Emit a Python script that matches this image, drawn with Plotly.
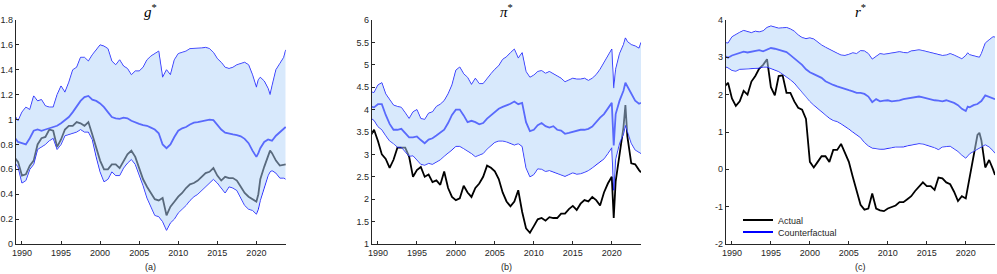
import plotly.graph_objects as go

years = [1989.0, 1989.5, 1990.0, 1990.5, 1991.0, 1991.5, 1992.0, 1992.5, 1993.0, 1993.5,
         1994.0, 1994.5, 1995.0, 1995.5, 1996.0, 1996.5, 1997.0, 1997.5, 1998.0, 1998.5,
         1999.0, 1999.5, 2000.0, 2000.5, 2001.0, 2001.5, 2002.0, 2002.5, 2003.0, 2003.5,
         2004.0, 2004.5, 2005.0, 2005.5, 2006.0, 2006.5, 2007.0, 2007.5, 2008.0, 2008.5,
         2009.0, 2009.5, 2010.0, 2010.5, 2011.0, 2011.5, 2012.0, 2012.5, 2013.0, 2013.5,
         2014.0, 2014.5, 2015.0, 2015.5, 2016.0, 2016.5, 2017.0, 2017.5, 2018.0, 2018.5,
         2019.0, 2019.5, 2020.0, 2020.25, 2020.5, 2021.0, 2021.5, 2021.75, 2022.0, 2022.5,
         2023.0, 2023.5, 2023.75]

# ---- g* ----
g_upper = [1.04, 0.99, 1.06, 1.10, 1.08, 1.19, 1.15, 1.16, 1.11, 1.10,
           1.10, 1.20, 1.27, 1.22, 1.30, 1.40, 1.42, 1.50, 1.50, 1.47,
           1.52, 1.56, 1.60, 1.59, 1.57, 1.47, 1.44, 1.48, 1.43, 1.41,
           1.36, 1.39, 1.39, 1.42, 1.48, 1.51, 1.53, 1.55, 1.34, 1.40,
           1.36, 1.48, 1.53, 1.54, 1.55, 1.57, 1.57, 1.57, 1.575, 1.58,
           1.57, 1.54, 1.49, 1.46, 1.42, 1.41, 1.42, 1.44, 1.45, 1.46,
           1.44, 1.36, 1.26, 1.32, 1.34, 1.31, 1.25, 1.20, 1.27, 1.40,
           1.45, 1.50, 1.56]
g_median = [0.86, 0.82, 0.81, 0.80, 0.85, 0.91, 0.92, 0.91, 0.92, 0.93,
            0.94, 0.95, 0.97, 0.995, 1.02, 1.06, 1.11, 1.15, 1.18, 1.19,
            1.16, 1.15, 1.13, 1.10, 1.06, 1.02, 1.01, 1.005, 1.015, 1.01,
            0.99, 0.975, 0.965, 0.955, 0.95, 0.935, 0.92, 0.89, 0.80, 0.77,
            0.80, 0.86, 0.91, 0.93, 0.94, 0.96, 0.975, 0.98, 0.985, 0.99,
            1.0, 0.995, 0.96, 0.92, 0.895, 0.885, 0.88, 0.875, 0.865, 0.845,
            0.81, 0.75, 0.70, 0.73, 0.77, 0.82, 0.84, 0.835, 0.83, 0.87,
            0.90, 0.925, 0.94]
g_lower = [0.66, 0.62, 0.49, 0.51, 0.60, 0.64, 0.76, 0.78, 0.80, 0.83,
           0.85, 0.76, 0.80, 0.87, 0.88, 0.89, 0.90, 0.92, 0.90, 0.90,
           0.84, 0.70, 0.58, 0.50, 0.52, 0.58, 0.55, 0.55, 0.61, 0.65,
           0.68, 0.64, 0.56, 0.47, 0.37, 0.30, 0.23, 0.22, 0.18, 0.11,
           0.17, 0.20, 0.25, 0.28, 0.31, 0.35, 0.38, 0.40, 0.43, 0.46,
           0.49, 0.52, 0.49, 0.45, 0.41, 0.46, 0.45, 0.43, 0.37, 0.31,
           0.28, 0.27, 0.24, 0.28, 0.35, 0.46, 0.55, 0.58, 0.59, 0.57,
           0.53, 0.53, 0.52]
g_actual = [0.70, 0.66, 0.55, 0.56, 0.63, 0.67, 0.80, 0.85, 0.86, 0.92,
            0.91, 0.78, 0.84, 0.92, 0.95, 0.95, 0.98, 0.97, 0.95, 0.98,
            0.88, 0.78, 0.67, 0.60, 0.60, 0.64, 0.64, 0.61, 0.67, 0.72,
            0.75, 0.70, 0.61, 0.52, 0.46, 0.41, 0.36, 0.35, 0.37, 0.23,
            0.30, 0.34, 0.38, 0.41, 0.45, 0.48, 0.49, 0.51, 0.54, 0.57,
            0.58, 0.61, 0.55, 0.51, 0.54, 0.53, 0.53, 0.51, 0.46, 0.41,
            0.38, 0.36, 0.34, 0.40, 0.52, 0.62, 0.70, 0.75, 0.73, 0.67,
            0.63, 0.64, 0.64]

# ---- pi* ----
pi_upper = [4.40, 4.38, 4.55, 4.60, 4.35, 4.22, 4.10, 4.07, 4.05, 3.93,
            3.80, 3.95, 4.00, 3.80, 3.78, 3.92, 3.95, 4.07, 4.12, 4.20,
            4.35, 4.55, 4.88, 4.95, 4.80, 4.72, 4.56, 4.70, 4.58, 4.58,
            4.70, 4.80, 4.90, 4.98, 5.12, 5.18, 5.27, 5.35, 5.15, 5.27,
            4.85, 4.72, 4.77, 4.85, 4.87, 4.81, 4.85, 4.80, 4.74, 4.70,
            4.62, 4.66, 4.70, 4.68, 4.68, 4.70, 4.65, 4.70, 4.78, 4.90,
            5.05, 5.20, 5.35, 4.48, 4.90, 5.25, 5.45, 5.60, 5.52, 5.45,
            5.42, 5.37, 5.50]
pi_median = [4.07, 4.05, 4.12, 4.12, 3.88, 3.68, 3.55, 3.55, 3.57, 3.48,
             3.38, 3.38, 3.40, 3.32, 3.25, 3.33, 3.36, 3.42, 3.48, 3.55,
             3.70, 3.88, 4.00, 4.00, 3.87, 3.72, 3.75, 3.72, 3.67, 3.70,
             3.80, 3.87, 3.95, 4.02, 4.06, 4.09, 4.13, 4.18, 4.12, 4.15,
             3.72, 3.52, 3.55, 3.65, 3.70, 3.63, 3.60, 3.63, 3.55, 3.53,
             3.46, 3.48, 3.50, 3.53, 3.55, 3.55, 3.57, 3.62, 3.73, 3.82,
             3.90, 4.02, 4.15, 3.20, 3.90, 4.20, 4.42, 4.60, 4.52, 4.35,
             4.20, 4.13, 4.15]
pi_lower = [3.82, 3.76, 3.62, 3.55, 3.42, 3.30, 3.24, 3.16, 3.16, 3.05,
            2.96, 2.97, 2.88, 2.78, 2.76, 2.80, 2.78, 2.83, 2.88, 2.96,
            3.02, 3.10, 3.18, 3.18, 3.13, 3.08, 3.02, 2.95, 2.98, 3.02,
            3.12, 3.20, 3.27, 3.30, 3.30, 3.28, 3.25, 3.21, 3.24, 3.18,
            2.70, 2.50, 2.55, 2.68, 2.67, 2.62, 2.64, 2.61, 2.58, 2.54,
            2.51, 2.55, 2.59, 2.56, 2.57, 2.60, 2.64, 2.70, 2.77, 2.85,
            2.90, 3.02, 3.15, 2.20, 2.90, 3.25, 3.45, 3.65, 3.50, 3.25,
            3.10, 3.04, 3.02]
pi_actual = [3.40, 3.55, 3.30, 3.00, 2.90, 2.70, 2.88, 3.15, 3.15, 3.15,
             2.95, 2.50, 2.65, 2.72, 2.50, 2.55, 2.38, 2.42, 2.32, 2.62,
             2.25, 2.05, 1.98, 2.02, 2.30, 2.15, 2.05, 2.25, 2.35, 2.50,
             2.75, 2.70, 2.62, 2.45, 2.15, 1.95, 1.84, 1.95, 2.20, 1.72,
             1.35, 1.25, 1.40, 1.55, 1.58, 1.52, 1.60, 1.58, 1.58, 1.68,
             1.68, 1.78, 1.85, 1.76, 1.90, 1.98, 1.95, 2.05, 1.98, 1.86,
             2.15, 2.35, 2.50, 1.58, 2.40, 2.95, 3.60, 4.10, 3.40, 2.80,
             2.78, 2.65, 2.60]

# ---- r* ----
r_upper = [3.40, 3.38, 3.55, 3.62, 3.67, 3.72, 3.69, 3.66, 3.70, 3.68,
           3.71, 3.80, 3.84, 3.80, 3.78, 3.79, 3.80, 3.76, 3.70, 3.60,
           3.53, 3.50, 3.52, 3.49, 3.40, 3.33, 3.27, 3.21, 3.16, 3.11,
           3.06, 3.05, 3.08, 3.12, 3.10, 3.18, 3.17, 3.10, 2.95, 3.02,
           3.10, 3.08, 3.10, 3.11, 3.13, 3.15, 3.13, 3.12, 3.17, 3.18,
           3.20, 3.18, 3.15, 3.12, 3.09, 3.06, 3.05, 3.06, 3.10, 3.06,
           3.02, 2.96, 3.05, 3.12, 3.07, 3.05, 3.02, 3.00, 3.10, 3.38,
           3.47, 3.55, 3.54]
r_median = [3.05, 2.99, 3.05, 3.08, 3.12, 3.15, 3.13, 3.15, 3.18, 3.19,
            3.16, 3.20, 3.25, 3.23, 3.20, 3.17, 3.14, 3.06, 2.97, 2.90,
            2.80, 2.68, 2.60, 2.55, 2.50, 2.45, 2.36, 2.30, 2.26, 2.22,
            2.18, 2.15, 2.12, 2.09, 2.05, 2.05, 2.02, 1.95, 1.80, 1.88,
            1.82, 1.84, 1.85, 1.82, 1.83, 1.85, 1.88, 1.90, 1.91, 1.93,
            1.95, 1.93, 1.90, 1.86, 1.85, 1.84, 1.82, 1.85, 1.82, 1.78,
            1.72, 1.62, 1.56, 1.68, 1.66, 1.72, 1.75, 1.78, 1.83, 1.98,
            1.94, 1.92, 1.88]
r_lower = [2.76, 2.72, 2.65, 2.63, 2.68, 2.69, 2.68, 2.71, 2.70, 2.71,
           2.74, 2.74, 2.70, 2.67, 2.62, 2.55, 2.48, 2.40, 2.31, 2.18,
           2.05, 1.92, 1.82, 1.72, 1.63, 1.55, 1.45, 1.37, 1.31, 1.28,
           1.22, 1.16, 1.08, 1.00, 0.93, 0.85, 0.72, 0.63, 0.57, 0.55,
           0.54, 0.54, 0.57, 0.58, 0.60, 0.60, 0.60, 0.63, 0.65, 0.67,
           0.69, 0.68, 0.65, 0.62, 0.58, 0.53, 0.60, 0.61, 0.62, 0.55,
           0.48, 0.38, 0.30, 0.36, 0.42, 0.48, 0.55, 0.58, 0.60, 0.66,
           0.60, 0.50, 0.43]
r_actual = [2.20, 2.32, 1.90, 1.70, 1.82, 2.10, 2.00, 2.35, 2.50, 2.70,
            2.80, 2.95, 2.20, 1.98, 2.50, 2.52, 2.05, 2.05, 1.82, 1.65,
            1.60, 1.35, 0.20, 0.05, 0.20, 0.35, 0.35, 0.20, 0.52, 0.52,
            0.68, 0.45, 0.20, -0.20, -0.60, -0.95, -1.08, -1.05, -0.65, -1.05,
            -1.10, -1.12, -1.05, -1.02, -0.97, -0.88, -0.88, -0.80, -0.72, -0.58,
            -0.47, -0.35, -0.45, -0.45, -0.55, -0.22, -0.24, -0.35, -0.40, -0.60,
            -0.85, -0.72, -0.78, -0.50, -0.30, 0.30, 0.92, 0.98, 0.78, 0.05,
            0.25, 0.00, -0.15]

x_ticks = [1990, 1995, 2000, 2005, 2010, 2015, 2020]
g_ticks = [0, 0.2, 0.4, 0.6, 0.8, 1, 1.2, 1.4, 1.6, 1.8]
g_ticktext = ["0", "0.2", "0.4", "0.6", "0.8", "1", "1.2", "1.4", "1.6", "1.8"]
pi_ticks = [1, 1.5, 2, 2.5, 3, 3.5, 4, 4.5, 5, 5.5, 6]
pi_ticktext = ["1", "1.5", "2", "2.5", "3", "3.5", "4", "4.5", "5", "5.5", "6"]
r_ticks = [-2, -1, 0, 1, 2, 3, 4]
r_ticktext = ["-2", "-1", "0", "1", "2", "3", "4"]

titles = ["<i>g</i><sup>*</sup>", "<i>π</i><sup>*</sup>", "<i>r</i><sup>*</sup>"]
sublabels = ["(a)", "(b)", "(c)"]

W, H = 997, 274
AX = "#262626"
SANS = "Liberation Sans, Arial, Helvetica, sans-serif"
SERIF = "Liberation Serif, Times New Roman, serif"
BLUE = "#0000ff"
FILL = "rgba(178,212,250,0.5)"

panels = [
    dict(act=g_actual, lo=g_lower, up=g_upper, med=g_median, yr=[0, 1.8], tv=g_ticks, tt=g_ticktext),
    dict(act=pi_actual, lo=pi_lower, up=pi_upper, med=pi_median, yr=[1, 6], tv=pi_ticks, tt=pi_ticktext),
    dict(act=r_actual, lo=r_lower, up=r_upper, med=r_median, yr=[-2, 4], tv=r_ticks, tt=r_ticktext),
]
xdoms = [[15.7 / W, 285.7 / W], [371.7 / W, 641.0 / W], [725.7 / W, 995.0 / W]]
ydom = [1 - 244.0 / H, 1 - 20.0 / H]

fig = go.Figure()
layout = {}
annotations = []
for i, p in enumerate(panels):
    xa = "x" if i == 0 else f"x{i+1}"
    ya = "y" if i == 0 else f"y{i+1}"
    legend_on = (i == 2)
    fig.add_trace(go.Scatter(x=years, y=p["act"], mode="lines", name="Actual",
                             line=dict(color="black", width=1.8), showlegend=legend_on,
                             legend="legend", xaxis=xa, yaxis=ya))
    fig.add_trace(go.Scatter(x=years, y=p["lo"], mode="lines", line=dict(color=BLUE, width=0.9),
                             showlegend=False, xaxis=xa, yaxis=ya))
    fig.add_trace(go.Scatter(x=years, y=p["up"], mode="lines", line=dict(color=BLUE, width=0.9),
                             showlegend=False, xaxis=xa, yaxis=ya))
    fig.add_trace(go.Scatter(x=years, y=p["med"], mode="lines", name="Counterfactual",
                             line=dict(color=BLUE, width=1.8), showlegend=legend_on,
                             legend="legend2", xaxis=xa, yaxis=ya))
    fig.add_trace(go.Scatter(x=years + years[::-1], y=p["up"] + p["lo"][::-1], mode="lines",
                             fill="toself", fillcolor=FILL, line=dict(width=0),
                             hoverinfo="skip", showlegend=False, xaxis=xa, yaxis=ya))
    xkey = "xaxis" if i == 0 else f"xaxis{i+1}"
    ykey = "yaxis" if i == 0 else f"yaxis{i+1}"
    layout[xkey] = dict(domain=xdoms[i], anchor=ya, range=[1989.2, 2023.75],
                        tickvals=x_ticks, ticks="inside", ticklen=3, tickwidth=0.8,
                        tickcolor=AX, showline=True, linecolor=AX, linewidth=0.8,
                        showgrid=False, zeroline=False, automargin=False,
                        tickfont=dict(family=SANS, size=9, color=AX))
    layout[ykey] = dict(domain=ydom, anchor=xa, range=p["yr"],
                        tickvals=p["tv"], ticktext=p["tt"], ticks="inside", ticklen=3,
                        tickwidth=0.8, tickcolor=AX, showline=True, linecolor=AX,
                        linewidth=0.8, showgrid=False, zeroline=False, automargin=False,
                        tickfont=dict(family=SANS, size=9, color=AX))
    cx = (xdoms[i][0] + xdoms[i][1]) / 2
    annotations.append(dict(text=titles[i], x=cx, y=1 - 11.0 / H, xref="paper", yref="paper",
                            xanchor="center", yanchor="middle", showarrow=False,
                            font=dict(family=SERIF, size=15, color="black")))
    annotations.append(dict(text=sublabels[i], x=cx, y=1 - 267.0 / H, xref="paper", yref="paper",
                            xanchor="center", yanchor="middle", showarrow=False,
                            font=dict(family=SANS, size=9, color=AX)))

leg_common = dict(xanchor="left", yanchor="middle", bgcolor="rgba(0,0,0,0)", borderwidth=0,
                  itemwidth=30, font=dict(family=SANS, size=9, color=AX))
fig.update_layout(
    width=W, height=H,
    margin=dict(l=0, r=0, t=0, b=0),
    paper_bgcolor="white", plot_bgcolor="white",
    showlegend=True,
    legend=dict(x=738.0 / W, y=1 - 220.0 / H, **leg_common),
    legend2=dict(x=738.0 / W, y=1 - 232.0 / H, **leg_common),
    annotations=annotations,
    **layout,
)

fig.write_html("out.html", config={"displayModeBar": False},
               post_script="document.body.style.margin='0';document.body.style.overflow='hidden';")
